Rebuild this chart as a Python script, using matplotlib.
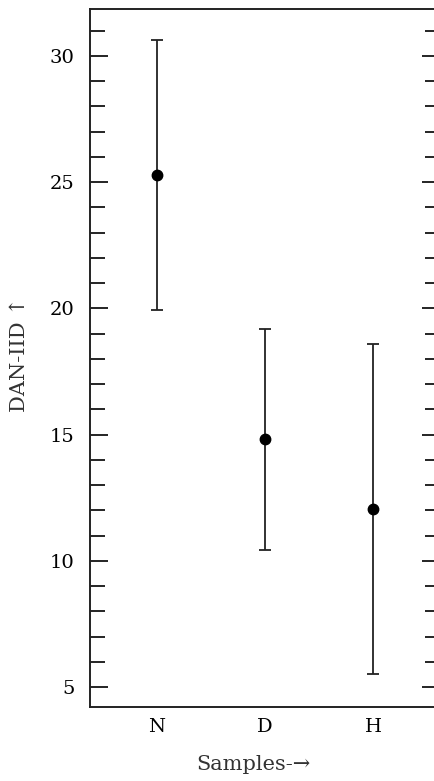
import numpy as np
import matplotlib
matplotlib.use("Agg")
import matplotlib.pyplot as plt
from matplotlib.ticker import MultipleLocator

# Sample groups and DAN-IID values
samples = ["N", "D", "H"]
means = [25.3, 14.83, 12.06]
upper = [30.62, 19.17, 18.6]
lower = [19.94, 10.44, 5.5]

y_ticks = [5, 10, 15, 20, 25, 30]

#Asymmetric error bar lengths
err_low = np.array(means) - np.array(lower)
err_high = np.array(upper) - np.array(means)

fig = plt.figure(figsize=(4.34, 7.81), dpi=100)
ax = fig.add_axes([90 / 434, 1 - 706.5 / 781, 350 / 434, 697.5 / 781])

x = np.arange(len(samples))
ax.errorbar(x, means, yerr=[err_low, err_high], fmt="o", color="black",
            ecolor="#222222", elinewidth=1.3, capsize=4.3, capthick=1.3,
            markersize=7.5)

ax.set_xlim(-0.62, 2.62)
ax.set_ylim(4.23, 31.86)

tick_font = ["DejaVu Serif", "DejaVu Sans"]
ax.set_xticks(x)
ax.set_xticklabels(samples, family=tick_font, fontsize=14)
ax.set_yticks(y_ticks)
ax.set_yticklabels([str(v) for v in y_ticks], family=tick_font, fontsize=14)
ax.yaxis.set_minor_locator(MultipleLocator(1))

ax.tick_params(axis="x", length=0, pad=8)
ax.tick_params(axis="y", which="major", direction="in", length=13, width=1.2,
               left=True, right=True, pad=11)
ax.tick_params(axis="y", which="minor", direction="in", length=10.5, width=1.2,
               left=True, right=True)

for side in ["left", "bottom", "top", "right"]:
    ax.spines[side].set_linewidth(1.4)
    ax.spines[side].set_color("#222222")

ax.set_xlabel("Samples-\u2192", family=tick_font, fontsize=15, color="#333333")
ax.set_ylabel("DAN-IID \u2191", family=tick_font, fontsize=15, color="#333333")
#label placement in axes coordinates
ax.xaxis.set_label_coords(0.468, -0.07)
ax.yaxis.set_label_coords(-0.175, 0.505)

fig.savefig("out.png", dpi=100)
plt.close(fig)
